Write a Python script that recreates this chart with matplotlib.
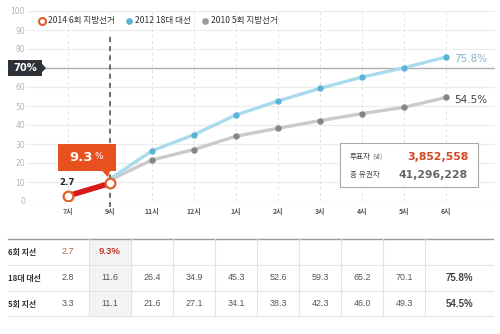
import numpy as np
import matplotlib
matplotlib.use('Agg')
import matplotlib.pyplot as plt
import matplotlib.transforms as mtransforms
from matplotlib.patches import Rectangle, Polygon

KR = ['Noto Sans CJK KR', 'DejaVu Sans']
NUM = ['DejaVu Sans', 'Noto Sans CJK KR']
plt.rcParams['font.family'] = NUM

hours = ['7시', '9시', '11시', '12시', '1시', '2시', '3시', '4시', '5시', '6시']
turnout_2014 = [2.7, 9.3]
turnout_2012 = [2.8, 11.6, 26.4, 34.9, 45.3, 52.6, 59.3, 65.2, 70.1, 75.8]
turnout_2010 = [3.3, 11.1, 21.6, 27.1, 34.1, 38.3, 42.3, 46.0, 49.3, 54.5]
legend_labels = ['2014 6회 지방선거', '2012 18대 대선', '2010 5회 지방선거']
row_labels = ['6회 지선', '18대 대선', '5회 지선']
voters = '3,852,558'
electorate = '41,296,228'
target = 70

RED = '#d7191c'
ORANGE = '#e8501e'
BLUE_L = '#aadbed'
BLUE_P = '#5bb3d5'
GRAY_L = '#cacaca'
GRAY_P = '#858585'

fig = plt.figure(figsize=(5, 3.34), dpi=100)
ax = fig.add_axes([27 / 500, 1 - 201 / 334, 468 / 500, 190 / 334])
x = np.arange(len(hours))
ax.set_xlim((27 - 68) / 42, (495 - 68) / 42)
ax.set_ylim(0, 100)
for s in ax.spines.values():
    s.set_visible(False)
ax.set_xticks(x)
ax.set_xticklabels(hours, family=KR, fontsize=5, color='#555555', fontweight='bold')
yt = np.arange(0, 101, 10)
ax.set_yticks(yt)
# the 70 label sits under the target tag
ax.set_yticklabels(['' if v == target else str(v) for v in yt], fontsize=5.5, color='#b5b5b5')
ax.tick_params(axis='x', length=0, pad=5)
ax.tick_params(axis='y', length=0, pad=1.5)
ax.grid(axis='y', color='#ececec', lw=0.8)
ax.grid(axis='x', color='#e2e2e2', lw=0.7, ls=(0, (3, 3)))
ax.set_axisbelow(True)

# target line
ax.axhline(target, color='#b0b0b0', lw=1, zorder=1)

# comparison series (start at 9시 in the chart)
ax.plot(x[1:], turnout_2010[1:], color=GRAY_L, lw=2.4, zorder=2, solid_capstyle='round')
ax.plot(x[2:], turnout_2010[2:], 'o', color=GRAY_P, ms=3.6, zorder=3)
ax.plot(x[1:], turnout_2012[1:], color=BLUE_L, lw=2.4, zorder=2, solid_capstyle='round')
ax.plot(x[2:], turnout_2012[2:], 'o', color=BLUE_P, ms=3.6, zorder=3)

# dark dashed marker for current hour
cur = len(turnout_2014) - 1
ax.plot([x[cur], x[cur]], [-3, 88.5], color='#555555', lw=1.2, ls=(0, (3, 2.5)),
        clip_on=False, zorder=4)

# 2014 line
ax.plot(x[:len(turnout_2014)], turnout_2014, color=RED, lw=4, zorder=5)
ax.plot(x[:len(turnout_2014)], turnout_2014, 'o', ms=7, mfc='white', mec='#e0602a',
        mew=1.6, zorder=6)


# pixel-space transform anchored at a data point
def anchor(xv, yv):
    return mtransforms.IdentityTransform() + mtransforms.ScaledTranslation(xv, yv, ax.transData)


ax.text(x[0], turnout_2014[0], f'{turnout_2014[0]}',
        transform=mtransforms.offset_copy(ax.transData, fig=fig, x=-1, y=13, units='dots'),
        ha='center', va='center', fontsize=6.2, fontweight='bold', color='#222222', zorder=7)

t = anchor(x[cur], turnout_2014[cur])
ax.add_patch(Rectangle((-52, 12), 58, 27, transform=t, fc=ORANGE, ec='none', zorder=7,
                       clip_on=False))
ax.add_patch(Polygon([(-8, 12.5), (0, 12.5), (-2, 6)], closed=True, transform=t,
                     fc=ORANGE, ec='none', zorder=7, clip_on=False))
ax.text(-29, 25.5, f'{turnout_2014[cur]}', transform=t, ha='center', va='center',
        fontsize=9.5, fontweight='bold', color='white', zorder=8)
ax.text(-11, 26.5, '%', transform=t, ha='center', va='center',
        fontsize=6.5, color='white', zorder=8)

# end labels
last = len(hours) - 1
ax.text(x[last], turnout_2012[last], f'{turnout_2012[last]}%',
        transform=mtransforms.offset_copy(ax.transData, fig=fig, x=8, y=-2, units='dots'),
        ha='left', va='center', fontsize=7.5, color='#7fb7cb', clip_on=False)
ax.text(x[last], turnout_2010[last], f'{turnout_2010[last]}%',
        transform=mtransforms.offset_copy(ax.transData, fig=fig, x=8, y=-3, units='dots'),
        ha='left', va='center', fontsize=7.5, color='#444444', clip_on=False)

# overlay in pixel coords (y down)
ov = fig.add_axes([0, 0, 1, 1])
ov.set_xlim(0, 500)
ov.set_ylim(334, 0)
ov.axis('off')
ov.set_zorder(ax.get_zorder() + 1)

# 70% tag
bt = mtransforms.blended_transform_factory(ov.transData, ax.transData)
h = 8 / 1.9
ov.add_patch(Polygon([(8, target - h), (42, target - h), (42, target - 2.2), (46, target),
                      (42, target + 2.2), (42, target + h), (8, target + h)], closed=True,
                     transform=bt, fc='#2c3237', ec='none'))
ov.text(25, target, f'{target}%', transform=bt, ha='center', va='center',
        fontsize=7.2, fontweight='bold', color='white')

# legend
lx = [42, 129, 205]
ov.plot(lx[0], 21, 'o', ms=5, mfc='white', mec='#e0602a', mew=1.5)
ov.plot(lx[1], 21, 'o', ms=3.8, color=BLUE_P)
ov.plot(lx[2], 21, 'o', ms=3.8, color='#9a9a9a')
for px, lab in zip(lx, legend_labels):
    ov.text(px + 6, 21, lab, ha='left', va='center', fontsize=6.2, color='#333333', family=KR)

# info box
ov.add_patch(Rectangle((340, 143), 138, 44, fc='white', ec='#aaaaaa', lw=0.8))
ov.text(350, 157, '투표자', ha='left', va='center', fontsize=5.5, color='#444444', family=KR)
ov.text(372, 157.5, '(명)', ha='left', va='center', fontsize=4.5, color='#777777', family=KR)
ov.text(468, 157, voters, ha='right', va='center', fontsize=7.8, fontweight='bold', color='#d2461e')
ov.text(350, 175, '총 유권자', ha='left', va='center', fontsize=5.5, color='#444444', family=KR)
ov.text(468, 175, electorate, ha='right', va='center', fontsize=7.8, fontweight='bold',
        color='#666666')

# table
col_c = [68 + 42 * i for i in range(len(hours) - 1)]
last_c = 459
top, bot = 239, 316
rows_y = [252, 278, 304]
ov.add_patch(Rectangle((col_c[cur] - 21, top), 42, bot - top, fc='#f3f3f3', ec='none'))
ov.plot([8, 493], [top, top], color='#9a9a9a', lw=1)
for yy in [265, 291, bot]:
    ov.plot([8, 493], [yy, yy], color='#e3e3e3', lw=0.8)
for c in col_c:
    ov.plot([c + 21, c + 21], [top, bot], color='#e3e3e3', lw=0.8)
for yy, lab in zip(rows_y, row_labels):
    ov.text(8, yy, lab, ha='left', va='center', fontsize=5.7, fontweight='bold',
            color='#333333', family=KR)

TF = ['Liberation Sans', 'DejaVu Sans']
ov.text(col_c[0], rows_y[0], f'{turnout_2014[0]}', ha='center', va='center',
        fontsize=6.4, color='#b8633d', family=TF)
ov.text(col_c[cur], rows_y[0], f'{turnout_2014[cur]}%', ha='center', va='center',
        fontsize=6.8, fontweight='bold', color='#c0392b', family=TF)
for yy, series in zip(rows_y[1:], [turnout_2012, turnout_2010]):
    for c, v in zip(col_c, series[:-1]):
        ov.text(c, yy, f'{v:.1f}', ha='center', va='center', fontsize=6.4, color='#555555',
                family=TF)
    ov.text(last_c, yy, f'{series[-1]}%', ha='center', va='center', fontsize=7,
            fontweight='bold', color='#444444', family=TF)

fig.savefig('out.png', dpi=100)
